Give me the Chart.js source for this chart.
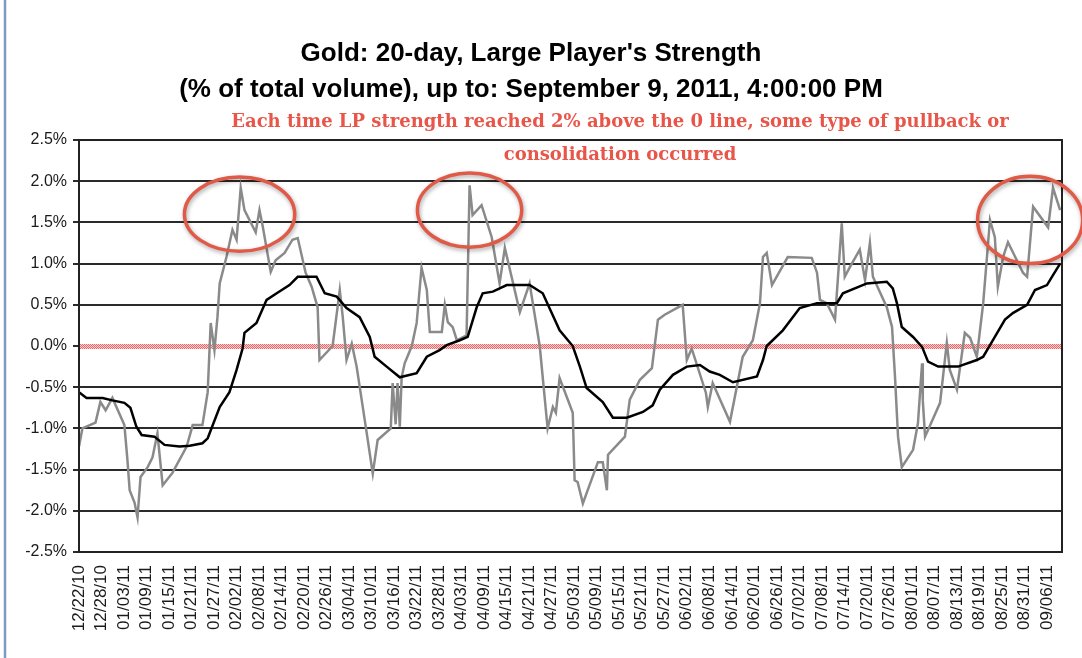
<!DOCTYPE html>
<html>
<head>
<meta charset="utf-8">
<title>Gold: 20-day, Large Player's Strength</title>
<script src="https://cdn.jsdelivr.net/npm/chart.js@4.4.1/dist/chart.umd.min.js"></script>
<style>
    body { margin: 0; background: #fff; }
    #wrap { width: 1082px; height: 658px; }
</style>
</head>
<body>
<div id="wrap"><canvas id="lp-chart" width="1082" height="658"></canvas></div>
<script>
// x axis labels, one every 6 calendar days
const tickLabels = [
    "12/22/10", "12/28/10", "01/03/11", "01/09/11", "01/15/11", "01/21/11", "01/27/11", "02/02/11",
    "02/08/11", "02/14/11", "02/20/11", "02/26/11", "03/04/11", "03/10/11", "03/16/11", "03/22/11",
    "03/28/11", "04/03/11", "04/09/11", "04/15/11", "04/21/11", "04/27/11", "05/03/11", "05/09/11",
    "05/15/11", "05/21/11", "05/27/11", "06/02/11", "06/08/11", "06/14/11", "06/20/11", "06/26/11",
    "07/02/11", "07/08/11", "07/14/11", "07/20/11", "07/26/11", "08/01/11", "08/07/11", "08/13/11",
    "08/19/11", "08/25/11", "08/31/11", "09/06/11"
];

// Large player strength (gray), days after 12/22/10 and % of total volume
const lpDays = [
    0, 0.9, 4.4, 5.7, 7.1, 8.9, 12.1, 12.9, 13.5, 14.8,
    15.6, 16.4, 18.3, 19.6, 20.9, 22.3, 24.9, 28.7, 30.3, 32.9,
    34.3, 35.1, 36.1, 36.9, 37.5, 39.3, 40.9, 42.0, 43.1, 44.1,
    47.1, 48.1, 48.9, 51.1, 52.4, 54.8, 56.9, 58.3, 60.4, 62.0,
    63.6, 64.1, 67.6, 69.5, 70.3, 71.3, 72.7, 74.0, 76.7, 78.3,
    79.6, 83.1, 83.6, 84.4, 84.9, 85.5, 86.0, 86.8, 88.7, 90.0,
    91.3, 92.7, 93.5, 96.7, 97.5, 98.3, 99.6, 100.7, 103.3, 104.1,
    104.9, 107.3, 110.0, 112.1, 113.5, 117.5, 120.1, 122.8, 124.9, 126.3,
    127.1, 128.1, 131.6, 132.1, 132.9, 134.3, 138.3, 139.6, 140.7, 141.0,
    145.5, 146.8, 149.5, 152.7, 154.3, 156.1, 160.9, 162.0, 163.3, 167.1,
    167.6, 168.9, 173.5, 176.9, 179.6, 181.5, 182.3, 183.3, 184.7, 188.9,
    195.3, 196.7, 197.5, 199.3, 201.5, 203.3, 204.1, 205.5, 208.1, 209.5,
    210.8, 211.6, 215.3, 216.7, 217.5, 218.3, 219.3, 222.3, 223.6, 224.7,
    224.9, 225.5, 229.5, 231.3, 232.1, 234.0, 236.1, 237.5, 239.3, 241.0,
    242.8, 244.1, 244.9, 246.3, 247.6, 251.6, 252.7, 254.3, 258.3, 259.6,
    261.5
];
const lpStrength = [
    -1.22, -1.00, -0.93, -0.68, -0.78, -0.63, -0.96, -1.38, -1.75, -1.90,
    -2.08, -1.59, -1.47, -1.35, -1.06, -1.69, -1.54, -1.22, -0.96, -0.96,
    -0.56, 0.28, -0.05, 0.35, 0.76, 1.08, 1.41, 1.29, 1.92, 1.65,
    1.38, 1.65, 1.47, 0.90, 1.04, 1.13, 1.29, 1.31, 0.89, 0.72,
    0.47, -0.17, 0.00, 0.68, 0.35, -0.17, 0.03, -0.25, -1.06, -1.55,
    -1.14, -1.00, -0.45, -0.95, -0.45, -0.98, -0.38, -0.21, 0.00, 0.28,
    0.95, 0.68, 0.17, 0.17, 0.50, 0.29, 0.23, 0.07, 0.13, 1.95,
    1.59, 1.71, 1.32, 0.76, 1.19, 0.41, 0.76, 0.00, -1.00, -0.74,
    -0.81, -0.39, -0.81, -1.63, -1.65, -1.91, -1.41, -1.41, -1.75, -1.32,
    -1.10, -0.65, -0.41, -0.27, 0.32, 0.38, 0.50, -0.17, -0.03, -0.57,
    -0.74, -0.45, -0.92, -0.13, 0.07, 0.52, 1.08, 1.13, 0.74, 1.08,
    1.07, 0.89, 0.56, 0.52, 0.32, 1.49, 0.84, 0.96, 1.17, 0.80,
    1.25, 0.84, 0.47, 0.23, -0.38, -1.10, -1.47, -1.26, -0.94, -0.21,
    -0.66, -1.10, -0.69, 0.04, -0.29, -0.53, 0.16, 0.10, -0.13, 0.52,
    1.53, 1.32, 0.72, 1.08, 1.26, 0.89, 0.84, 1.69, 1.44, 1.92,
    1.65
];

// 20-day average (black)
const avgDays = [
    0, 2.0, 6.3, 8.9, 12.1, 13.7, 15.3, 16.7, 20.1, 22.8,
    26.8, 29.5, 32.9, 34.3, 37.5, 40.1, 42.0, 43.6, 44.1, 47.3,
    50.0, 52.7, 56.1, 58.3, 63.3, 65.5, 68.7, 71.3, 74.8, 77.5,
    78.8, 82.0, 85.5, 90.0, 92.7, 96.1, 98.0, 101.5, 103.6, 106.0,
    107.6, 110.3, 114.0, 120.1, 123.6, 128.1, 131.6, 133.5, 135.3, 139.6,
    142.3, 146.0, 150.3, 152.9, 154.8, 158.3, 162.0, 165.5, 168.1, 170.8,
    174.3, 180.7, 182.3, 183.3, 187.6, 192.1, 196.7, 202.0, 203.6, 210.0,
    215.3, 216.9, 218.0, 219.3, 222.3, 224.7, 226.3, 229.0, 234.3, 239.3,
    241.0, 244.1, 246.8, 248.9, 252.7, 254.8, 258.0, 259.6, 261.5
];
const avgStrength = [
    -0.56, -0.63, -0.63, -0.66, -0.69, -0.75, -0.98, -1.08, -1.10, -1.20,
    -1.22, -1.21, -1.18, -1.12, -0.74, -0.56, -0.29, -0.03, 0.16, 0.28,
    0.56, 0.64, 0.74, 0.84, 0.84, 0.64, 0.60, 0.46, 0.35, 0.11,
    -0.13, -0.25, -0.38, -0.33, -0.13, -0.05, 0.01, 0.07, 0.11, 0.47,
    0.64, 0.66, 0.74, 0.74, 0.64, 0.19, 0.00, -0.25, -0.51, -0.68,
    -0.87, -0.87, -0.80, -0.72, -0.53, -0.35, -0.25, -0.23, -0.31, -0.35,
    -0.44, -0.37, -0.17, 0.00, 0.19, 0.46, 0.52, 0.52, 0.64, 0.76,
    0.78, 0.70, 0.52, 0.23, 0.11, -0.01, -0.19, -0.25, -0.25, -0.17,
    -0.13, 0.11, 0.32, 0.40, 0.50, 0.68, 0.74, 0.86, 1.00
];

const noteLines = [
    "Each time LP strength reached 2% above the 0 line, some type of pullback or",
    "consolidation occurred"
];

// red rings drawn around the peaks (centre day / %, half width in days, half height in %)
const rings = [
    { day: 42.8, pct: 1.60, rx: 14.7, ry: 0.45 },
    { day: 104.1, pct: 1.65, rx: 13.9, ry: 0.45 },
    { day: 253.5, pct: 1.53, rx: 14.0, ry: 0.53 }
];

const SANS = "'Liberation Sans', Arial, sans-serif";

function dayOf(label) {
    const [m, d, y] = label.split("/").map(Number);
    return Math.round((Date.UTC(2000 + y, m - 1, d) - Date.UTC(2010, 11, 22)) / 864e5);
}

const decorations = {
    id: "decorations",
    beforeDatasetsDraw(chart) {
        const { ctx, chartArea, scales } = chart;
        // pink hatched zero line
        const tile = document.createElement("canvas");
        tile.width = 2;
        tile.height = 2;
        const t = tile.getContext("2d");
        t.fillStyle = "#fbd3d3";
        t.fillRect(0, 0, 2, 2);
        t.fillStyle = "#ec6464";
        t.fillRect(0, 0, 1, 1);
        t.fillRect(1, 1, 1, 1);
        const y0 = scales.y.getPixelForValue(0);
        ctx.save();
        ctx.fillStyle = ctx.createPattern(tile, "repeat");
        ctx.fillRect(chartArea.left + 1, Math.round(y0) - 2, chartArea.width - 1, 5);
        ctx.restore();
    },
    afterDatasetsDraw(chart) {
        const { ctx, chartArea, scales } = chart;
        ctx.save();
        // plot frame
        ctx.strokeStyle = "#222";
        ctx.lineWidth = 2;
        ctx.strokeRect(chartArea.left, chartArea.top, chartArea.width, chartArea.height);

        // rings
        ctx.strokeStyle = "#e05a48";
        ctx.lineWidth = 3.5;
        ctx.shadowColor = "rgba(0, 0, 0, 0.35)";
        ctx.shadowBlur = 4;
        ctx.shadowOffsetX = 1;
        ctx.shadowOffsetY = 2;
        rings.forEach(r => {
            const cx = scales.x.getPixelForValue(r.day);
            const cy = scales.y.getPixelForValue(r.pct);
            const rx = scales.x.getPixelForValue(r.day + r.rx) - cx;
            const ry = cy - scales.y.getPixelForValue(r.pct + r.ry);
            ctx.beginPath();
            ctx.ellipse(cx, cy, rx, ry, 0, 0, Math.PI * 2);
            ctx.stroke();
        });
        ctx.restore();
    },
    afterDraw(chart) {
        const { ctx } = chart;
        ctx.save();
        // note text
        ctx.fillStyle = "#e8564a";
        ctx.font = "bold 18px 'DejaVu Serif', serif";
        ctx.textAlign = "center";
        ctx.textBaseline = "middle";
        ctx.fillText(noteLines[0], 620, 122);
        ctx.fillText(noteLines[1], 620, 155);

        // frame edge on the left of the picture
        ctx.strokeStyle = "#7d9cc4";
        ctx.lineWidth = 2.5;
        ctx.beginPath();
        ctx.moveTo(5, 0);
        ctx.lineTo(5, 658);
        ctx.stroke();
        ctx.restore();
    }
};

document.addEventListener("DOMContentLoaded", () => {
    const ctx = document.getElementById("lp-chart").getContext("2d");

    new Chart(ctx, {
        type: "line",
        data: {
            datasets: [
                {
                    label: "20-day average",
                    data: avgDays.map((d, i) => ({ x: d, y: avgStrength[i] })),
                    borderColor: "#000",
                    borderWidth: 2.5,
                    pointRadius: 0,
                    tension: 0,
                    order: 0
                },
                {
                    label: "LP strength",
                    data: lpDays.map((d, i) => ({ x: d, y: lpStrength[i] })),
                    borderColor: "#8a8a8a",
                    borderWidth: 2.5,
                    pointRadius: 0,
                    tension: 0,
                    order: 1
                }
            ]
        },
        options: {
            responsive: false,
            animation: false,
            layout: { padding: { left: 0, right: 20, top: 0, bottom: 0 } },
            plugins: {
                legend: { display: false },
                tooltip: { enabled: false },
                title: {
                    display: true,
                    text: [
                        "Gold: 20-day, Large Player's Strength",
                        "(% of total volume), up to: September 9, 2011, 4:00:00 PM"
                    ],
                    color: "#000",
                    font: { family: SANS, size: 26, weight: "bold", lineHeight: 1.385 },
                    padding: { top: 36, bottom: 32 }
                }
            },
            scales: {
                x: {
                    type: "linear",
                    min: 0,
                    max: 262,
                    afterBuildTicks: scale => {
                        scale.ticks = tickLabels.map(s => ({ value: dayOf(s) }));
                    },
                    afterFit: scale => { scale.height = 106; },
                    ticks: {
                        autoSkip: false,
                        minRotation: 90,
                        maxRotation: 90,
                        padding: 5,
                        color: "#1a1a1a",
                        font: { family: SANS, size: 17 },
                        callback: (value, index) => tickLabels[index]
                    },
                    grid: { display: false },
                    border: { display: true, color: "#222", width: 2 }
                },
                y: {
                    min: -2.5,
                    max: 2.5,
                    afterFit: scale => { scale.width = 79; },
                    ticks: {
                        stepSize: 0.5,
                        padding: 6,
                        color: "#1a1a1a",
                        font: { family: SANS, size: 16 },
                        callback: v => (Math.abs(v) < 1e-9 ? 0 : v).toFixed(1) + "%"
                    },
                    grid: { color: "#2a2a2a", lineWidth: 2, tickLength: 6 },
                    border: { color: "#222", width: 2 }
                }
            }
        },
        plugins: [decorations]
    });
});
</script>
</body>
</html>
